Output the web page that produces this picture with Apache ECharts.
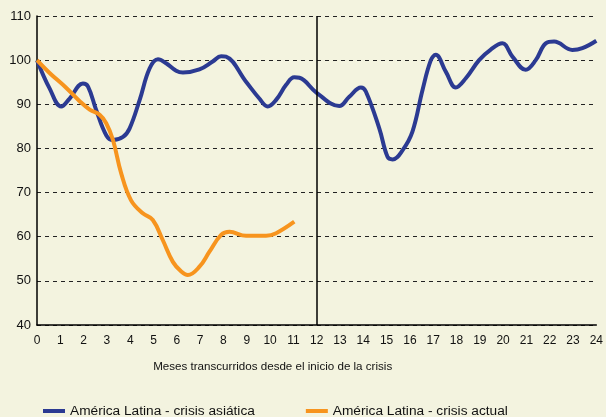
<!DOCTYPE html>
<html>
<head>
<meta charset="utf-8">
<script src="https://cdn.jsdelivr.net/npm/echarts@6/dist/echarts.min.js"></script>
<style>
  html, body { margin: 0; padding: 0; background: #f3f3df; }
  #chart { width: 606px; height: 417px; }
</style>
</head>
<body>
<div id="chart"></div>
<script>
// meses desde el inicio de la crisis, índice (inicio = 100)
var asiaMeses = [0, 0.54, 1.04, 1.4, 1.97, 2.19, 2.54, 2.97, 3.26, 3.69, 3.97, 4.4, 4.83, 5.19, 5.54, 5.97, 6.26, 6.97, 7.54, 7.9, 8.11, 8.97, 9.54, 9.9, 10.26, 10.69, 11.04, 11.26, 12, 12.97, 13.4, 13.9, 14.11, 14.69, 15.04, 15.26, 15.69, 16.11, 16.54, 16.9, 17.11, 17.54, 17.97, 18.4, 18.97, 19.47, 19.97, 20.4, 20.97, 21.4, 21.83, 22.19, 22.97, 23.4, 24];
var asiaValores = [100, 93.6, 89.5, 91.3, 94.7, 94, 88.7, 83, 81.9, 82.6, 84.5, 90.9, 98.1, 100.2, 99.3, 97.6, 97.2, 97.9, 99.7, 100.9, 100.8, 95.1, 91.3, 89.5, 91, 94.4, 96.1, 96, 92.6, 89.6, 91.7, 93.8, 92.9, 84.5, 78.1, 77.5, 79.6, 83.8, 93.2, 100, 101.2, 97.4, 93.8, 95.9, 100, 102.4, 103.8, 100.8, 97.8, 100, 103.8, 104.2, 102.3, 102.7, 104.4];
var actualMeses = [0, 0.54, 1.26, 1.83, 2.26, 2.69, 2.97, 3.26, 3.61, 4.03, 4.54, 4.97, 5.4, 5.83, 6.19, 6.47, 6.97, 7.4, 7.9, 8.26, 8.97, 9.83, 10.26, 11.04];
var actualValores = [100, 97.1, 93.7, 90.7, 88.8, 87.6, 85.7, 81.9, 74.4, 68.3, 65.3, 63.8, 59.2, 54.3, 52.1, 51.3, 53.2, 56.6, 60.4, 61.1, 60.2, 60.2, 60.8, 63.4];
var nombres = ['América Latina - crisis asiática', 'América Latina - crisis actual'];
var colores = ['#2b3a92', '#f7941e'];

function pares(xs, ys) {
  return xs.map(function (x, i) { return [x, ys[i]]; });
}

var chart = echarts.init(document.getElementById('chart'));
var option = {
  backgroundColor: '#f3f3df',
  animation: false,
  color: colores,
  textStyle: { fontFamily: 'Liberation Sans, Arial, sans-serif' },
  grid: { left: 37, right: 8, top: 16, bottom: 92 },
  legend: {
    left: 43,
    top: 404,
    padding: 0,
    itemGap: 51,
    itemWidth: 22,
    itemHeight: 4,
    icon: 'rect',
    textStyle: { color: '#111', fontSize: 13.7 },
    data: nombres
  },
  xAxis: {
    type: 'value',
    min: 0, max: 24, interval: 1,
    name: 'Meses transcurridos desde el inicio de la crisis',
    nameLocation: 'middle',
    nameGap: 36,
    nameTextStyle: { color: '#111', fontSize: 11.6, padding: [0, 88, 0, 0] },
    axisLine: { lineStyle: { color: '#000', width: 1.5 } },
    axisTick: { show: false },
    axisLabel: { color: '#111', fontSize: 12, margin: 10 },
    splitLine: { show: false }
  },
  yAxis: {
    type: 'value',
    min: 40, max: 110, interval: 10,
    axisLine: { show: true, lineStyle: { color: '#000', width: 1.5 } },
    axisTick: { show: false },
    axisLabel: { color: '#111', fontSize: 13, margin: 6 },
    splitLine: { lineStyle: { color: '#222', type: [4, 4], width: 1 } }
  },
  series: [
    {
      name: nombres[0],
      type: 'line',
      smooth: 0.4,
      symbol: 'none',
      lineStyle: { width: 4, color: colores[0] },
      data: pares(asiaMeses, asiaValores),
      z: 3,
      markLine: {
        silent: true,
        symbol: 'none',
        label: { show: false },
        lineStyle: { color: '#000', type: 'solid', width: 1.5 },
        data: [{ xAxis: 12 }]
      }
    },
    {
      name: nombres[1],
      type: 'line',
      smooth: 0.4,
      symbol: 'none',
      lineStyle: { width: 4, color: colores[1] },
      data: pares(actualMeses, actualValores),
      z: 4
    }
  ]
};
chart.setOption(option);
</script>
</body>
</html>
